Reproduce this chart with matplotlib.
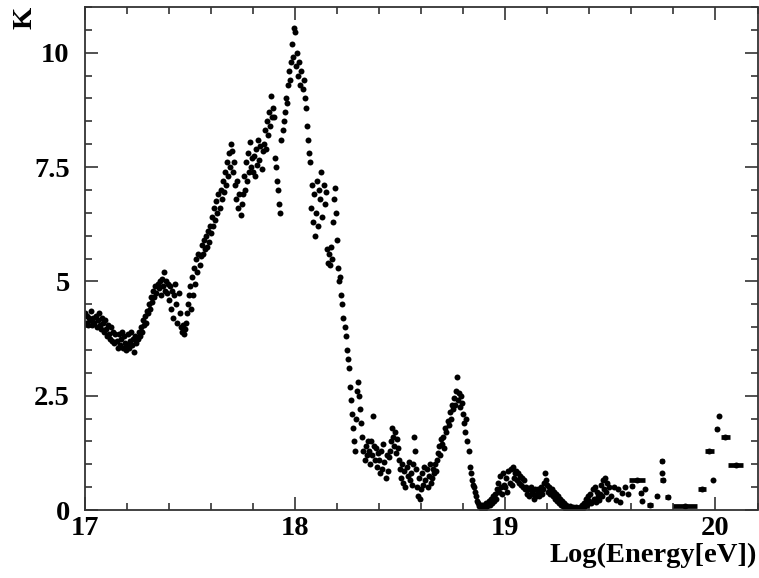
import numpy as np
import matplotlib
matplotlib.use("Agg")
import matplotlib.pyplot as plt
from matplotlib.ticker import MultipleLocator, FuncFormatter

# ------------------ data ------------------
# dense part: K sampled every 0.005 in Log(E), starting at 17.000
X_START = 17.0
X_STEP = 0.005
k_dense = [
    4.30, 4.10, 4.25, 4.05, 4.20, 4.15, 4.35, 4.05, 4.20, 4.10,  # 17.00
    4.25, 4.00, 4.15, 4.30, 4.05, 3.95, 4.20, 4.10, 3.90, 4.15,  # 17.05
    3.95, 3.80, 4.05, 3.85, 3.75, 4.00, 3.70, 3.90, 3.65, 3.85,  # 17.10
    3.70, 3.55, 3.85, 3.60, 3.75, 3.90, 3.55, 3.80, 3.65, 3.50,  # 17.15
    3.60, 3.85, 3.55, 3.70, 3.90, 3.60, 3.75, 3.45, 3.80, 3.65,  # 17.20
    3.75, 3.90, 3.80, 4.00, 3.90, 4.15, 4.05, 4.25, 4.10, 4.35,  # 17.25
    4.30, 4.50, 4.40, 4.65, 4.55, 4.80, 4.65, 4.90, 4.75, 4.95,  # 17.30
    4.85, 5.00, 4.70, 5.05, 4.90, 5.20, 4.80, 5.00, 4.75, 4.95,  # 17.35
    4.60, 4.90, 4.40, 4.80, 4.20, 4.70, 4.95, 4.50, 4.10, 4.75,  # 17.40
    4.30, 4.00, 3.90, 4.05, 3.85, 3.95, 4.10, 4.30, 4.50, 4.70,  # 17.45
    4.90, 4.40, 5.10, 4.70, 5.30, 4.95, 5.50, 5.20, 5.60, 5.35,  # 17.50
    5.55, 5.80, 5.60, 5.90, 5.70, 6.00, 5.75, 6.10, 5.85, 6.20,  # 17.55
    6.05, 6.40, 6.20, 6.60, 6.35, 6.75, 6.50, 6.90, 6.60, 7.00,  # 17.60
    6.80, 7.20, 6.95, 7.40, 7.10, 7.60, 7.30, 7.80, 7.50, 8.00,  # 17.65
    7.85, 7.40, 7.60, 7.10, 6.80, 7.20, 6.60, 6.90, 6.45, 6.70,  # 17.70
    6.90, 7.30, 7.00, 7.60, 7.20, 7.80, 7.40, 8.05, 7.50, 7.70,  # 17.75
    7.40, 7.75, 7.30, 7.90, 7.55, 8.10, 7.65, 7.95, 7.45, 7.85,  # 17.80
    8.00, 8.30, 7.90, 8.50, 8.20, 8.70, 8.40, 9.05, 8.60, 8.80,  # 17.85
    8.60, 7.70, 7.50, 7.20, 7.00, 6.70, 6.50, 8.10, 8.30, 8.50,  # 17.90
    8.70, 9.00, 8.90, 9.30, 9.60, 9.40, 9.80, 10.20, 9.90, 10.55,  # 17.95
    10.45, 9.70, 10.00, 9.50, 9.80, 9.30, 9.60, 9.20, 9.40, 9.00,  # 18.00
    8.80, 8.40, 8.10, 7.80, 7.60, 6.60, 7.10, 6.30, 6.90, 6.00,  # 18.05
    6.50, 7.20, 6.20, 7.00, 6.80, 7.40, 6.40, 7.10, 6.70, 6.95,  # 18.10
    5.70, 5.40, 5.60, 5.35, 5.75, 5.50, 6.30, 6.80, 7.05, 6.50,  # 18.15
    5.90, 5.30, 5.00, 5.10, 4.70, 4.50, 4.20, 4.00, 3.80, 3.50,  # 18.20
    3.30, 3.10, 2.70, 2.40, 2.10, 1.80, 1.50, 1.30, 2.00, 2.60,  # 18.25
    2.80, 2.50, 2.20, 1.90, 1.60, 1.30, 1.10, 1.40, 1.20, 1.50,  # 18.30
    1.30, 1.00, 1.50, 1.20, 2.05, 1.40, 1.10, 1.35, 0.95, 1.25,  # 18.35
    1.10, 0.80, 1.30, 0.90, 1.45, 1.05, 0.70, 1.20, 0.85, 1.15,  # 18.40
    1.30, 1.50, 1.80, 1.60, 1.40, 1.70, 1.25, 1.55, 1.35, 1.10,  # 18.45
    0.90, 0.70, 1.00, 0.60, 0.85, 0.50, 0.95, 0.75, 1.05, 0.65,  # 18.50
    0.80, 0.55, 1.00, 1.60, 1.30, 0.90, 0.50, 0.30, 0.70, 0.25,  # 18.55
    0.45, 0.80, 0.55, 0.95, 0.65, 0.90, 0.50, 0.75, 1.00, 0.60,  # 18.60
    0.70, 0.90, 0.80, 1.00, 0.85, 1.10, 1.25, 1.40, 1.20, 1.55,  # 18.65
    1.45, 1.60, 1.35, 1.80, 1.70, 1.95, 1.85, 2.15, 2.00, 2.30,  # 18.70
    2.20, 2.45, 2.30, 2.60, 2.90, 2.40, 2.55, 2.25, 2.50, 2.35,  # 18.75
    2.10, 1.90, 1.70, 2.00, 1.50, 1.30, 0.95, 0.80, 0.65, 0.55,  # 18.80
    0.50, 0.40, 0.30, 0.20, 0.15, 0.08, 0.12, 0.05, 0.10, 0.04,  # 18.85
    0.10, 0.05, 0.15, 0.08, 0.20, 0.12, 0.25, 0.15, 0.30, 0.20,  # 18.90
    0.35, 0.25, 0.45, 0.60, 0.40, 0.75, 0.50, 0.35, 0.80, 0.55,  # 18.95
    0.50, 0.70, 0.40, 0.85, 0.60, 0.90, 0.55, 0.95, 0.70, 0.80,  # 19.00
    0.85, 0.65, 0.80, 0.60, 0.75, 0.55, 0.70, 0.50, 0.65, 0.45,  # 19.05
    0.50, 0.35, 0.45, 0.30, 0.50, 0.40, 0.35, 0.25, 0.45, 0.30,  # 19.10
    0.35, 0.45, 0.30, 0.40, 0.50, 0.35, 0.45, 0.60, 0.80, 0.65,  # 19.15
    0.55, 0.40, 0.50, 0.35, 0.45, 0.30, 0.40, 0.25, 0.35, 0.20,  # 19.20
    0.30, 0.15, 0.25, 0.10, 0.20, 0.08, 0.15, 0.05, 0.12, 0.04,  # 19.25
    0.05, 0.02, 0.08, 0.03, 0.06, 0.01, 0.04, 0.07, 0.02, 0.05,  # 19.30
    0.03, 0.06, 0.02, 0.10, 0.05, 0.15, 0.08, 0.25, 0.12, 0.30,  # 19.35
    0.20, 0.35, 0.15, 0.45, 0.25, 0.50, 0.18, 0.40, 0.30, 0.22,  # 19.40
    0.35, 0.55, 0.30, 0.65, 0.45, 0.70, 0.40, 0.60, 0.25, 0.50,  # 19.45
]

# sparse high-energy tail: bin centre, K, half bin width
tail_x = [19.505, 19.515, 19.525, 19.535, 19.545, 19.555, 19.57, 19.585,
          19.605, 19.627, 19.645, 19.65, 19.665, 19.69, 19.72, 19.745,
          19.745, 19.75, 19.772, 19.855, 19.937, 19.97, 19.99, 20.005,
          20.018, 20.047, 20.097]
tail_k = [0.30, 0.50, 0.22, 0.45, 0.18, 0.38, 0.50, 0.35,
          0.52, 0.65, 0.38, 0.20, 0.45, 0.10, 0.30, 1.08,
          0.80, 0.65, 0.28, 0.08, 0.45, 1.28, 0.65, 1.78,
          2.06, 1.60, 0.98]
tail_xerr = [0, 0, 0, 0, 0, 0, 0.004, 0.004,
             0.008, 0.038, 0.008, 0, 0.006, 0.015, 0.006, 0.010,
             0.004, 0.012, 0.010, 0.057, 0.020, 0.022, 0.004, 0.008,
             0.004, 0.020, 0.035]

# ------------------ style ------------------
plt.rcParams["font.family"] = ["Liberation Serif", "DejaVu Serif"]
plt.rcParams["font.weight"] = "bold"
FS = 20.5

fig = plt.figure(figsize=(7.59, 5.78), dpi=100)
ax = fig.add_axes([85 / 759, 1 - 510 / 578, 672.5 / 759, 503 / 578])

x_dense = X_START + X_STEP * np.arange(len(k_dense))
ax.plot(x_dense, k_dense, "o", ms=4.3, color="black", mew=0)
ax.errorbar(tail_x, tail_k, xerr=tail_xerr, fmt="o", ms=4.3, color="black",
            mew=0, elinewidth=3.4, capsize=0)

ax.set_xlim(17, 20.2)
ax.set_ylim(0, 11)
ax.xaxis.set_major_locator(MultipleLocator(1))
ax.xaxis.set_minor_locator(MultipleLocator(0.2))
ax.yaxis.set_major_locator(MultipleLocator(2.5))
ax.yaxis.set_minor_locator(MultipleLocator(0.5))
ax.yaxis.set_major_formatter(FuncFormatter(lambda v, p: f"{v:g}"))

ax.tick_params(which="both", direction="in", top=True, right=True,
               color="#333333", width=1.2, labelsize=FS)
ax.tick_params(which="major", length=9.5)
ax.tick_params(which="minor", length=5)
ax.tick_params(axis="x", pad=4)
ax.tick_params(axis="y", pad=11)
for lab in ax.get_xticklabels() + ax.get_yticklabels():
    lab.set_fontweight("bold")
for sp in ax.spines.values():
    sp.set_color("#333333")
    sp.set_linewidth(1.3)

fig.text(25 / 759, 1 - 18 / 578, "K", rotation=90, ha="center", va="center",
         fontsize=FS, fontweight="bold")
fig.text(757 / 759, 1 - 555 / 578, "Log(Energy[eV])", ha="right",
         va="center", fontsize=FS, fontweight="bold")

fig.savefig("out.png", dpi=100)
